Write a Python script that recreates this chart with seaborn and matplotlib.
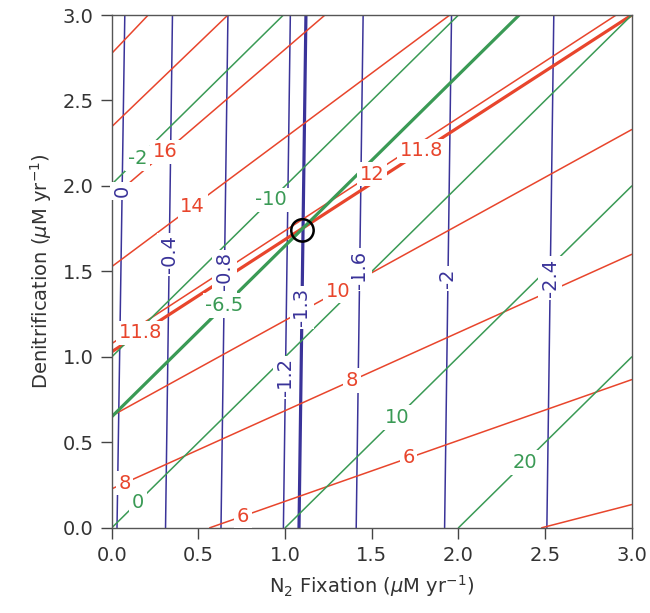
import numpy as np
import pandas as pd
import seaborn as sns
import matplotlib.pyplot as plt

# blue contours (almost vertical): x where each one meets the bottom and top of the frame
blue_levels = ["0", "-0.4", "-0.8", "-1.2", "-1.3", "-1.6", "-2", "-2.4"]
blue_x_bottom = [0.03, 0.31, 0.63, 0.99, 1.08, 1.41, 1.92, 2.51]
blue_x_top = [0.075, 0.35, 0.67, 1.03, 1.12, 1.45, 1.96, 2.55]
blue_lab_y = [1.97, 1.60, 1.50, 0.88, 1.29, 1.51, 1.46, 1.46]

# red contours: start / end points
red_levels = [4, 6, 8, 10, 11.8, 12, 14, 16, 18, 20]
red_x0 = [2.48, 0.565, 0.0, 0.0, 0.0, 0.0, 0.0, 0.0, 0.0, 0.0]
red_y0 = [0.0, 0.0, 0.228, 0.655, 1.03, 1.078, 1.528, 1.93, 2.347, 2.776]
red_x1 = [3.0, 3.0, 3.0, 3.0, 3.0, 2.91, 1.95, 1.23, 0.67, 0.21]
red_y1 = [0.136, 0.867, 1.60, 2.33, 3.0, 3.0, 3.0, 3.0, 3.0, 3.0]

# green contours
green_levels = [-20, -10, -6.5, 0, 10, 20]
green_x0 = [0.0, 0.0, 0.0, 0.0, 1.0, 2.0]
green_y0 = [2.01, 1.0, 0.65, 0.0, 0.0, 0.0]
green_x1 = [0.99, 2.0, 2.35, 3.0, 3.0, 3.0]
green_y1 = [3.0, 3.0, 3.0, 3.0, 2.0, 1.0]

# inline labels (text, which level, x along the line)
red_lab_text = ["6", "6", "8", "8", "10", "11.8", "11.8", "12", "14", "16"]
red_lab_level = [6, 6, 8, 8, 10, 11.8, 11.8, 12, 14, 16]
red_lab_x = [0.756, 1.712, 0.073, 1.385, 1.308, 0.167, 1.789, 1.50, 0.467, 0.31]
green_lab_text = ["-2", "-10", "-6.5", "0", "10", "20"]
green_lab_level = [-20, -10, -6.5, 0, 10, 20]
green_lab_x = [0.15, 0.919, 0.65, 0.15, 1.645, 2.383]

# present-day point
circle_x = [1.10]
circle_y = [1.74]

BLUE = "#3a3399"
RED = "#e8452c"
GREEN = "#3a9a55"

sns.set_style("white")
plt.rcParams["font.family"] = ["DejaVu Sans"]

fig = plt.figure(figsize=(6.5, 6.13), dpi=100)
ax = fig.add_axes([0.172, 0.139, 0.8, 0.8365])


def seg_frame(levels, x0, y0, x1, y1):
    rows = []
    for lv, a, b, c, d in zip(levels, x0, y0, x1, y1):
        rows.append({"level": lv, "x": a, "y": b})
        rows.append({"level": lv, "x": c, "y": d})
    return pd.DataFrame(rows)


blue_df = seg_frame(blue_levels, blue_x_bottom, [0.0] * 8, blue_x_top, [3.0] * 8)
red_df = seg_frame(red_levels, red_x0, red_y0, red_x1, red_y1)
green_df = seg_frame(green_levels, green_x0, green_y0, green_x1, green_y1)

for df, col, thick in [(blue_df, BLUE, "-1.3"), (red_df, RED, 11.8), (green_df, GREEN, -6.5)]:
    thin = df[df.level != thick]
    fat = df[df.level == thick]
    sns.lineplot(data=thin, x="x", y="y", units="level", estimator=None, sort=False,
                 color=col, lw=1.1, ax=ax)
    sns.lineplot(data=fat, x="x", y="y", units="level", estimator=None, sort=False,
                 color=col, lw=2.3, ax=ax)

box = dict(facecolor="white", edgecolor="none", pad=2)

for txt, y in zip(blue_levels, blue_lab_y):
    i = blue_levels.index(txt)
    x = np.interp(y, [0, 3], [blue_x_bottom[i], blue_x_top[i]])
    ax.text(x, y, txt, color=BLUE, rotation=90, ha="center", va="center",
            fontsize=14, bbox=box, zorder=5)

for txt, lv, x in zip(red_lab_text, red_lab_level, red_lab_x):
    i = red_levels.index(lv)
    y = np.interp(x, [red_x0[i], red_x1[i]], [red_y0[i], red_y1[i]])
    ax.text(x, y, txt, color=RED, ha="center", va="center",
            fontsize=14, bbox=box, zorder=5)

for txt, lv, x in zip(green_lab_text, green_lab_level, green_lab_x):
    i = green_levels.index(lv)
    y = np.interp(x, [green_x0[i], green_x1[i]], [green_y0[i], green_y1[i]])
    ax.text(x, y, txt, color=GREEN, ha="center", va="center",
            fontsize=14, bbox=box, zorder=5)

sns.scatterplot(x=circle_x, y=circle_y, s=260, facecolor="none", edgecolor="black",
                linewidth=1.8, ax=ax, zorder=6)

ax.set_xlim(0, 3)
ax.set_ylim(0, 3)
ticks = np.arange(0, 3.01, 0.5)
ax.set_xticks(ticks)
ax.set_yticks(ticks)
ax.set_xticklabels([f"{v:.1f}" for v in ticks])
ax.set_yticklabels([f"{v:.1f}" for v in ticks])
ax.tick_params(direction="out", length=8, width=1, color="#444444",
               labelsize=14, labelcolor="#333333", pad=5,
               bottom=True, left=True)
for s in ax.spines.values():
    s.set_color("#555555")
    s.set_linewidth(1.0)

ax.set_xlabel(r"N$_2$ Fixation ($\mu$M yr$^{-1}$)", fontsize=14, color="#333333", labelpad=6)
ax.set_ylabel(r"Denitrification ($\mu$M yr$^{-1}$)", fontsize=14, color="#333333", labelpad=6)

fig.savefig("out.png", dpi=100)
